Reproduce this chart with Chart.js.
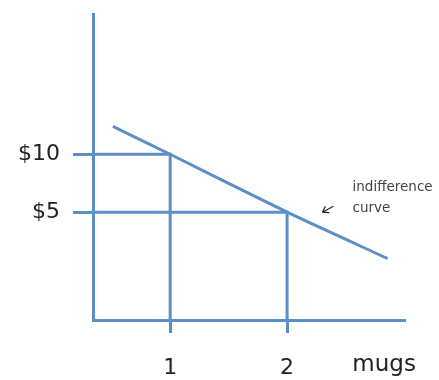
<!DOCTYPE html>
<html>
<head>
<meta charset="utf-8">
<script src="https://cdn.jsdelivr.net/npm/chart.js@4"></script>
<style>
  html, body { margin: 0; padding: 0; background: #fff; }
  #box { width: 439px; height: 380px; }
</style>
</head>
<body>
<div id="box"><canvas id="grafica"></canvas></div>
<script>
// valores
const xTicks = [1, 2];
const yTicks = [5, 10];
const curveX = [0.51, 1, 2, 2.86];
const curveY = [12.4, 10, 5, 1.0];
const xMin = 0.34, xMax = 3.0;
const yMin = -4.3, yMax = 22.1;
const axisLabel = "mugs";
const curveLabel = ["indifference", "curve"];

const azul = "rgb(92,143,200)";

function puntos(xs, ys) {
  return xs.map((x, i) => ({ x: x, y: ys[i] }));
}

// lineas guia hacia los ejes (precio en y, cantidad en x)
const guias = xTicks.map((x, i) => {
  const y = yTicks[yTicks.length - 1 - i];
  return {
    data: [{ x: xMin, y: y }, { x: x, y: y }, { x: x, y: yMin }],
    borderColor: azul,
    borderWidth: 3,
    pointRadius: 0,
    fill: false
  };
});

const textos = {
  id: "textos",
  afterDraw(chart) {
    const ctx = chart.ctx;
    const sx = chart.scales.x, sy = chart.scales.y;
    ctx.save();
    ctx.fillStyle = "#222";
    ctx.font = "23px 'DejaVu Sans'";
    ctx.textAlign = "center";
    ctx.textBaseline = "middle";
    ctx.fillText(axisLabel, sx.getPixelForValue(2.83), 365);

    ctx.font = "13.5px 'DejaVu Sans'";
    ctx.fillStyle = "#444";
    ctx.textAlign = "left";
    const tx = sx.getPixelForValue(2.56);
    const ty = sy.getPixelForValue(7.1);
    ctx.fillText(curveLabel[0], tx, ty);
    ctx.fillText(curveLabel[1], tx, ty + 21);

    // flechita
    const ax = sx.getPixelForValue(2.302), ay = sy.getPixelForValue(5.0);
    ctx.strokeStyle = "#222";
    ctx.lineWidth = 1.2;
    ctx.beginPath();
    ctx.moveTo(ax + 11, ay - 6);
    ctx.lineTo(ax, ay);
    ctx.moveTo(ax, ay);
    ctx.lineTo(ax + 3, ay - 6);
    ctx.moveTo(ax, ay);
    ctx.lineTo(ax + 7, ay + 0.5);
    ctx.stroke();
    ctx.restore();
  }
};

new Chart(document.getElementById("grafica"), {
  type: "line",
  data: {
    datasets: [
      {
        data: puntos(curveX, curveY),
        borderColor: azul,
        borderWidth: 3,
        pointRadius: 0,
        tension: 0.2,
        fill: false
      },
      ...guias
    ]
  },
  options: {
    responsive: true,
    maintainAspectRatio: false,
    animation: false,
    layout: { padding: { top: 14, right: 35, left: 0, bottom: 0 } },
    plugins: { legend: { display: false }, tooltip: { enabled: false } },
    scales: {
      x: {
        type: "linear",
        min: xMin,
        max: xMax,
        afterBuildTicks: (s) => { s.ticks = xTicks.map(v => ({ value: v })); },
        afterFit: (s) => { s.height = 60; s.paddingLeft = 0; s.paddingRight = 0; },
        border: { color: azul, width: 3 },
        grid: { drawOnChartArea: false, color: azul, lineWidth: 3, tickLength: 13 },
        ticks: {
          color: "#222",
          padding: 22,
          font: { family: "DejaVu Sans", size: 22 },
          callback: (v) => String(v)
        }
      },
      y: {
        type: "linear",
        min: yMin,
        max: yMax,
        afterBuildTicks: (s) => { s.ticks = yTicks.map(v => ({ value: v })); },
        afterFit: (s) => { s.width = 93; s.paddingTop = 0; s.paddingBottom = 0; },
        border: { color: azul, width: 3 },
        grid: { drawOnChartArea: false, color: azul, lineWidth: 3, tickLength: 20 },
        ticks: {
          color: "#222",
          padding: 13,
          font: { family: "DejaVu Sans", size: 22 },
          callback: (v) => "$" + v
        }
      }
    }
  },
  plugins: [textos]
});
</script>
</body>
</html>
